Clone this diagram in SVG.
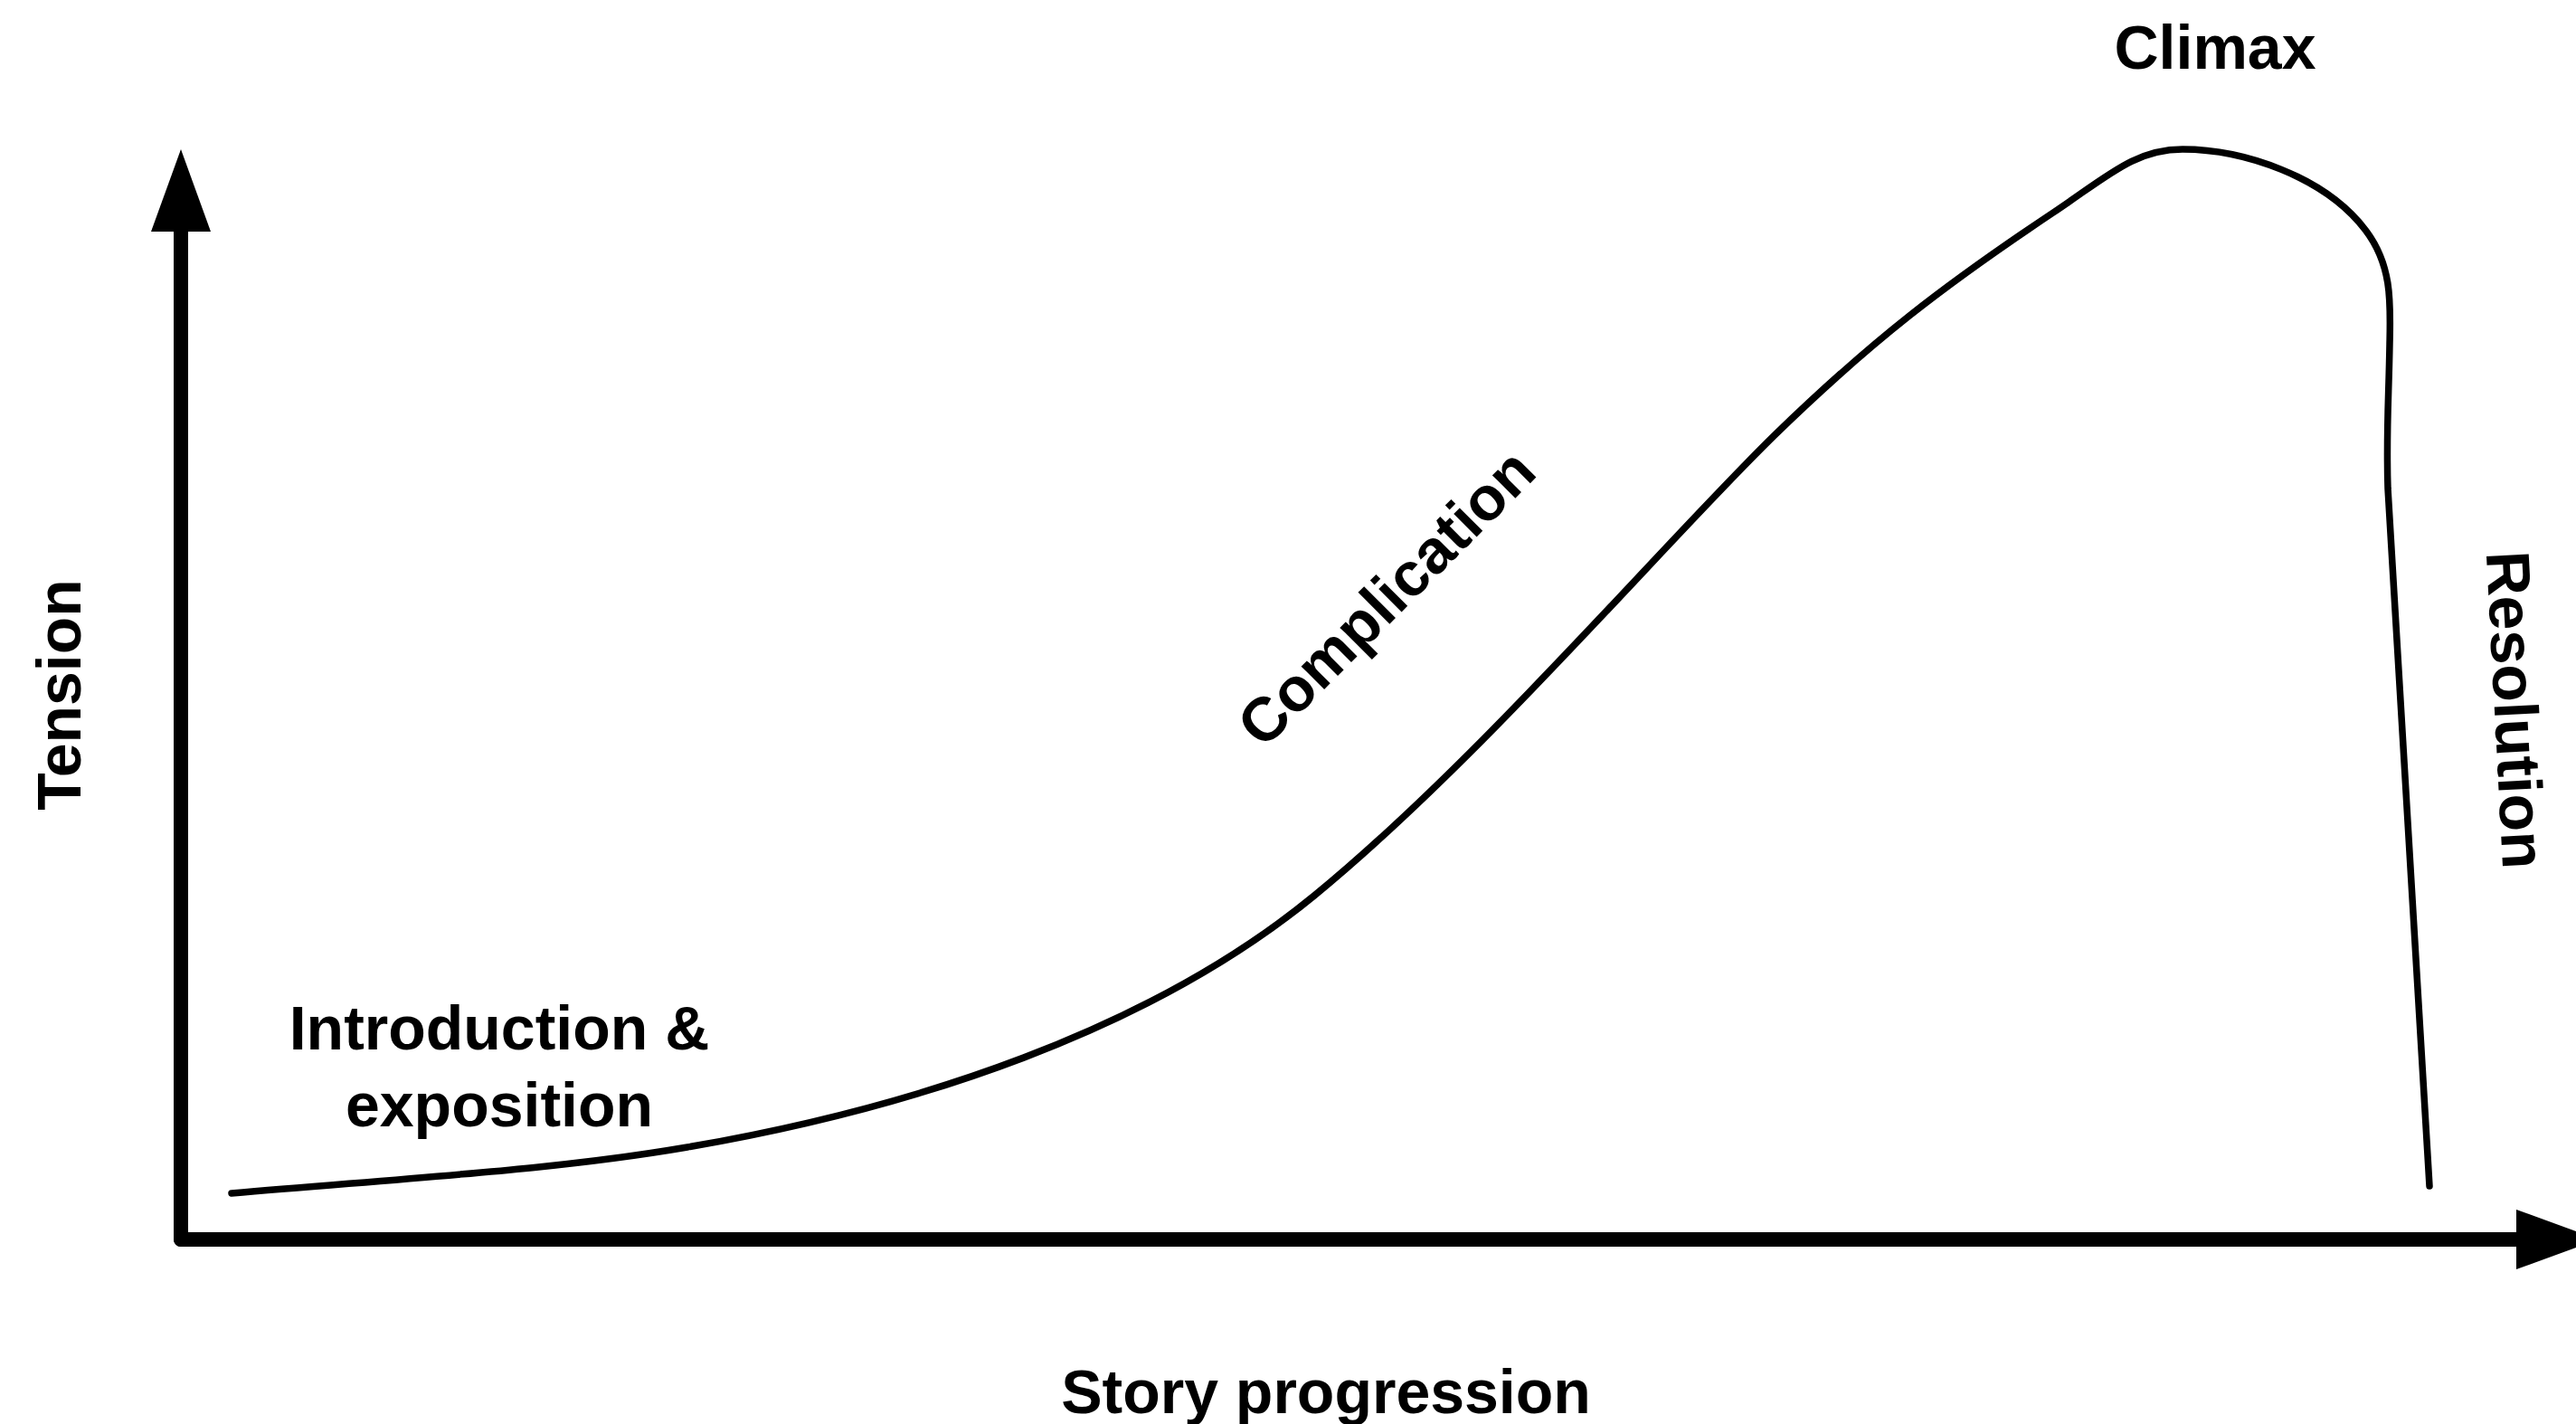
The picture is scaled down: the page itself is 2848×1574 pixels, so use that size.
<svg xmlns="http://www.w3.org/2000/svg" width="2848" height="1574" viewBox="0 0 2848 1574">
  <style>
    .label { font-family: "Liberation Sans", Arial, Helvetica, sans-serif; font-weight: bold; font-size: 68px; fill: #000; }
    .axis { fill: none; stroke: #000; stroke-width: 16; stroke-linecap: round; stroke-linejoin: round; }
    .arc { fill: none; stroke: #000; stroke-width: 7.5; stroke-linecap: round; stroke-linejoin: round; }
  </style>
  <defs>
    <marker id="head" markerUnits="userSpaceOnUse" viewBox="0 0 92 66" markerWidth="92" markerHeight="66" refX="0" refY="33" orient="auto">
      <path d="M0,0 L91,33 L0,66 Z" fill="#000"/>
    </marker>
  </defs>
  <rect width="2848" height="1574" fill="#fff"/>

  <!-- axes and tension curve -->
  <g id="connectors">
    <line id="axis-y" class="axis" x1="200" y1="1370" x2="200" y2="256" marker-end="url(#head)"/>
    <line id="axis-x" class="axis" x1="200" y1="1370" x2="2782" y2="1370" marker-end="url(#head)"/>
    <path id="story-arc" class="arc" d="M256,1319 C480,1300 620,1292 760,1268 C1010,1225 1270,1140 1453,990 C1636,840 1840,600 1962,481 C2070,376 2150,315 2270,235 C2330,195 2360,165 2413,165 C2480,165 2570,195 2615,254 C2645,293 2643,335 2642,380 C2641,440 2638,480 2640,540 L2686,1311"/>
  </g>

  <g id="climax">
    <text class="label" x="2449" y="76" text-anchor="middle">Climax</text>
  </g>
  <g id="introduction">
    <text class="label" x="552" y="1160" text-anchor="middle">Introduction &amp;</text>
    <text class="label" x="552" y="1245" text-anchor="middle">exposition</text>
  </g>
  <g id="complication">
    <text class="label" text-anchor="middle" transform="translate(1549,677) rotate(-45)">Complication</text>
  </g>
  <g id="resolution">
    <text class="label" text-anchor="middle" transform="translate(2758,786) rotate(87)">Resolution</text>
  </g>
  <g id="tension">
    <text class="label" text-anchor="middle" transform="translate(89,768) rotate(-90)">Tension</text>
  </g>
  <g id="story-progression">
    <text class="label" x="1466" y="1562" text-anchor="middle">Story progression</text>
  </g>
</svg>
